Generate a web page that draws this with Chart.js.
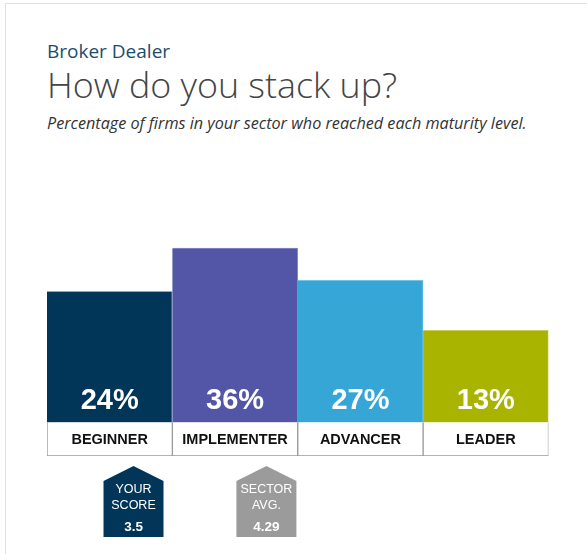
<!DOCTYPE html>
<html>
<head>
<meta charset="utf-8">
<script src="https://cdn.jsdelivr.net/npm/chart.js@4"></script>
<style>
  html, body { margin:0; padding:0; background:#fff; }
  #wrap { position:relative; width:587px; height:554px; overflow:hidden; }
  #card { position:absolute; left:5px; top:3px; right:0; bottom:0; border-left:1px solid #dbe2ea; border-top:1px solid #dbe2ea; }
  .hdr { position:absolute; left:47px; margin:0; font-family:"Open Sans", sans-serif; white-space:nowrap; }
  #sector { top:38px; font-size:19px; color:#1c4c70; }
  #title { top:60px; font-size:35.8px; font-weight:300; color:#444; }
  #sub { top:112px; font-size:16.2px; font-style:italic; color:#333; }
  canvas { position:absolute; left:0; top:0; }
</style>
</head>
<body>
<div id="wrap">
  <div id="card"></div>
  <div class="hdr" id="sector">Broker Dealer</div>
  <div class="hdr" id="title">How do you stack up?</div>
  <div class="hdr" id="sub">Percentage of firms in your sector who reached each maturity level.</div>
  <canvas id="stack" width="587" height="554"></canvas>
</div>
<script>
// maturity levels and share of firms (%)
const levels = ['BEGINNER', 'IMPLEMENTER', 'ADVANCER', 'LEADER'];
const shares = [24, 36, 27, 13];
const barColors = ['#023659', '#5356a6', '#36a6d6', '#a8b400'];
const edgeColors = ['#c9d0d8', '#8a8cc8', '#74c4e6', '#c6cf5a'];

// score markers: label lines, value, position along the level axis
const markerLabels = [['YOUR', 'SCORE'], ['SECTOR', 'AVG.']];
const markerValues = ['3.5', '4.29'];
const markerPos = [0.19, 1.25];
const markerColors = ['#023659', '#9b9b9b'];

// value axis: coloured bars start below zero, label cells under them
const BAR_FLOOR = -12.7;
const CELL_FLOOR = -22.1;
const Y_MAX = 66.2;

const labelsPlugin = {
  id: 'stackLabels',
  afterDatasetsDraw(chart) {
    const ctx = chart.ctx, x = chart.scales.x, y = chart.scales.y;
    const yFloor = y.getPixelForValue(BAR_FLOOR);
    const yCell = y.getPixelForValue(CELL_FLOOR);
    ctx.save();
    ctx.textAlign = 'center';
    ctx.textBaseline = 'middle';
    levels.forEach((lv, i) => {
      const cx = x.getPixelForValue(i);
      ctx.fillStyle = '#fff';
      ctx.font = 'bold 29px "Liberation Sans", Arial, sans-serif';
      ctx.fillText(shares[i] + '%', cx, yFloor - 21);
      ctx.fillStyle = '#111';
      ctx.font = 'bold 14.5px "Liberation Sans", Arial, sans-serif';
      ctx.fillText(lv, cx, (yFloor + yCell) / 2 + 1);
    });
    // pentagon score markers
    markerLabels.forEach((lines, i) => {
      const cx = x.getPixelForValue(markerPos[i]);
      const top = yCell + 10, w = 30;
      ctx.beginPath();
      ctx.moveTo(cx, top);
      ctx.lineTo(cx + w, top + 15);
      ctx.lineTo(cx + w, top + 71);
      ctx.lineTo(cx - w, top + 71);
      ctx.lineTo(cx - w, top + 15);
      ctx.closePath();
      ctx.fillStyle = markerColors[i];
      ctx.fill();
      ctx.fillStyle = '#fff';
      ctx.font = '12.5px "Liberation Sans", Arial, sans-serif';
      ctx.fillText(lines[0], cx, top + 24);
      ctx.fillText(lines[1], cx, top + 40);
      ctx.font = 'bold 13.5px "Liberation Sans", Arial, sans-serif';
      ctx.fillText(markerValues[i], cx, top + 61);
    });
    ctx.restore();
  }
};

new Chart(document.getElementById('stack').getContext('2d'), {
  type: 'bar',
  data: {
    labels: levels,
    datasets: [
      {
        label: 'share',
        data: shares.map(v => [BAR_FLOOR, v]),
        backgroundColor: barColors,
        borderColor: edgeColors,
        borderWidth: { top: 1, right: 1, left: 0, bottom: 0 },
        borderSkipped: false,
        grouped: false,
        barPercentage: 1, categoryPercentage: 1
      },
      {
        label: 'cells',
        data: levels.map(() => [CELL_FLOOR, BAR_FLOOR]),
        backgroundColor: '#fff',
        borderColor: '#9a9a9a',
        borderWidth: { top: 0, right: 1, left: 1, bottom: 1 },
        borderSkipped: false,
        grouped: false,
        barPercentage: 1, categoryPercentage: 1
      }
    ]
  },
  options: {
    responsive: false,
    animation: false,
    layout: { padding: { left: 47, right: 38.5, top: 140, bottom: 98 } },
    plugins: { legend: { display: false }, tooltip: { enabled: false } },
    scales: {
      x: { display: false },
      y: { display: false, min: CELL_FLOOR, max: Y_MAX }
    }
  },
  plugins: [labelsPlugin]
});
</script>
</body>
</html>
